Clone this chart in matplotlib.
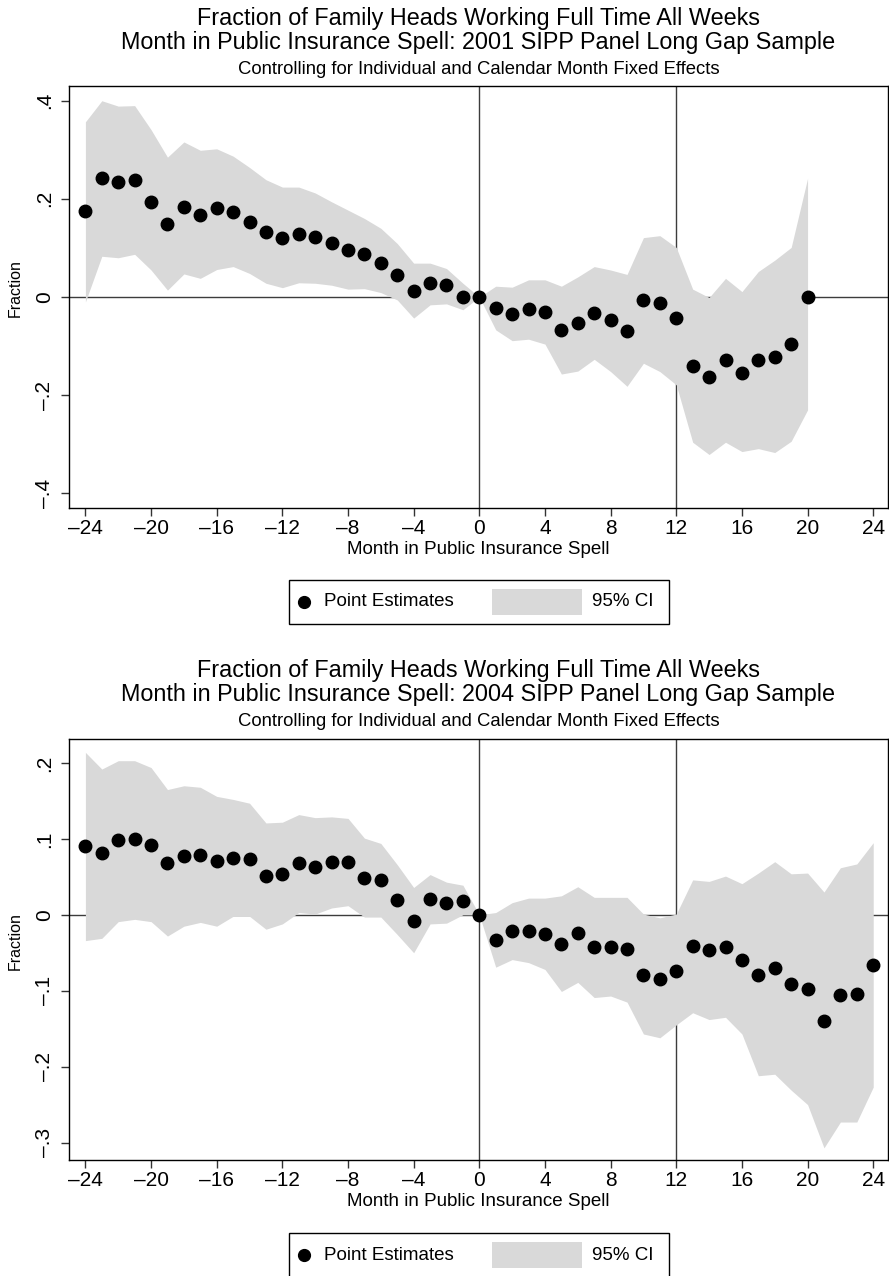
import numpy as np
import matplotlib
matplotlib.use("Agg")
import matplotlib.pyplot as plt
from matplotlib.lines import Line2D
from matplotlib.patches import Rectangle

plt.rcParams['font.family'] = ['Liberation Sans', 'DejaVu Sans']

# ---- data ----
months01 = list(range(-24, 21))
est01 = [0.176, 0.243, 0.235, 0.239, 0.193, 0.149, 0.183, 0.167, 0.181, 0.174,
         0.153, 0.132, 0.121, 0.128, 0.123, 0.110, 0.096, 0.088, 0.070, 0.045,
         0.012, 0.028, 0.024, 0.000, 0.000,
         -0.023, -0.035, -0.025, -0.030, -0.068, -0.054, -0.032, -0.047, -0.069, -0.006,
         -0.013, -0.042, -0.140, -0.164, -0.128, -0.154, -0.129, -0.122, -0.096, 0.000]
hi01 = [0.357, 0.400, 0.389, 0.390, 0.341, 0.285, 0.316, 0.299, 0.302, 0.287,
        0.264, 0.239, 0.224, 0.224, 0.212, 0.194, 0.177, 0.160, 0.140, 0.109,
        0.069, 0.069, 0.058, 0.028, 0.000,
        0.022, 0.020, 0.035, 0.035, 0.022, 0.041, 0.062, 0.055, 0.046, 0.121,
        0.125, 0.101, 0.016, -0.001, 0.038, 0.011, 0.052, 0.075, 0.101, 0.242]
lo01 = [-0.010, 0.083, 0.080, 0.087, 0.055, 0.014, 0.047, 0.038, 0.056, 0.062,
        0.048, 0.028, 0.019, 0.029, 0.028, 0.024, 0.016, 0.017, 0.009, -0.006,
        -0.043, -0.016, -0.014, -0.026, 0.000,
        -0.067, -0.089, -0.086, -0.096, -0.157, -0.151, -0.127, -0.152, -0.182, -0.135,
        -0.152, -0.179, -0.296, -0.321, -0.296, -0.315, -0.309, -0.317, -0.294, -0.230]

months04 = list(range(-24, 25))
est04 = [0.090, 0.081, 0.098, 0.100, 0.092, 0.068, 0.078, 0.079, 0.071, 0.075,
         0.073, 0.051, 0.054, 0.068, 0.063, 0.069, 0.070, 0.049, 0.046, 0.019,
         -0.008, 0.021, 0.015, 0.018, 0.000,
         -0.033, -0.021, -0.021, -0.025, -0.038, -0.024, -0.043, -0.042, -0.045, -0.079,
         -0.084, -0.074, -0.041, -0.047, -0.042, -0.059, -0.079, -0.070, -0.091, -0.098,
         -0.140, -0.106, -0.104, -0.066]
hi04 = [0.214, 0.192, 0.203, 0.203, 0.194, 0.165, 0.170, 0.168, 0.156, 0.152,
        0.147, 0.121, 0.122, 0.132, 0.128, 0.129, 0.127, 0.101, 0.094, 0.066,
        0.036, 0.053, 0.043, 0.039, 0.000,
        0.003, 0.016, 0.022, 0.022, 0.025, 0.037, 0.023, 0.023, 0.023, 0.001,
        -0.004, 0.001, 0.046, 0.044, 0.051, 0.041, 0.055, 0.070, 0.054, 0.055,
        0.030, 0.062, 0.067, 0.095]
lo04 = [-0.034, -0.031, -0.009, -0.006, -0.009, -0.028, -0.015, -0.010, -0.015, -0.002,
        -0.002, -0.019, -0.012, 0.003, 0.001, 0.009, 0.012, -0.003, -0.003, -0.026,
        -0.050, -0.012, -0.011, 0.000, 0.000,
        -0.069, -0.059, -0.063, -0.072, -0.101, -0.089, -0.109, -0.107, -0.115, -0.157,
        -0.162, -0.145, -0.129, -0.138, -0.135, -0.157, -0.212, -0.210, -0.231, -0.250,
        -0.307, -0.273, -0.273, -0.227]

xticks = list(range(-24, 25, 4))
yticks01 = [-0.4, -0.2, 0, 0.2, 0.4]
ylabels01 = ['\u2013.4', '\u2013.2', '0', '.2', '.4']
yticks04 = [-0.3, -0.2, -0.1, 0, 0.1, 0.2]
ylabels04 = ['\u2013.3', '\u2013.2', '\u2013.1', '0', '.1', '.2']

title1 = 'Fraction of Family Heads Working Full Time All Weeks'
title2_01 = 'Month in Public Insurance Spell: 2001 SIPP Panel Long Gap Sample'
title2_04 = 'Month in Public Insurance Spell: 2004 SIPP Panel Long Gap Sample'
subtitle = 'Controlling for Individual and Calendar Month Fixed Effects'

W, H = 889, 1276
fig = plt.figure(figsize=(W / 100, H / 100), dpi=100)

CI_COL = '#d9d9d9'
REF_COL = '#3c3c3c'


def px(y):
    return 1 - y / H


def panel(top, bottom, months, est, lo, hi, ylim, yticks, ylabels, t2, leg_top):
    ax = fig.add_axes([69 / W, px(bottom), (888 - 69) / W, (bottom - top) / H])
    ax.axhline(0, color=REF_COL, lw=1.0, zorder=1)
    ax.axvline(0, color=REF_COL, lw=1.0, zorder=1)
    ax.axvline(12, color=REF_COL, lw=1.0, zorder=1)
    ax.fill_between(months, lo, hi, color=CI_COL, lw=0, zorder=2)
    ax.plot(months, est, 'o', color='black', ms=9, zorder=3)
    ax.set_xlim(-25, 24.9)
    ax.set_ylim(*ylim)
    ax.set_xticks(xticks)
    ax.set_xticklabels([str(t).replace('-', '\u2013') for t in xticks], fontsize=15)
    ax.set_yticks(yticks)
    ax.set_yticklabels(ylabels, fontsize=15, rotation=90, va='center')
    ax.tick_params(direction='out', length=6, width=1, color='#333333')
    ax.tick_params(axis='x', pad=2)
    ax.tick_params(axis='y', pad=5)
    for s in ax.spines.values():
        s.set_linewidth(1.0)
        s.set_color('black')
    ax.set_xlabel('Month in Public Insurance Spell', fontsize=13.5, labelpad=2)
    ax.set_ylabel('Fraction', fontsize=11.5)
    ax.yaxis.set_label_coords(-46 / (888 - 69), 0.52)

    fig.text(478.5 / W, px(top - 68), title1, ha='center', va='center', fontsize=16.8)
    fig.text(478.5 / W, px(top - 44), t2, ha='center', va='center', fontsize=16.8)
    fig.text(478.5 / W, px(top - 17), subtitle, ha='center', va='center', fontsize=13.3)

    # legend box
    bx0, bx1 = 289, 669
    fig.add_artist(Rectangle((bx0 / W, px(leg_top + 44)), (bx1 - bx0) / W, 44 / H,
                             transform=fig.transFigure, fill=False, ec='black', lw=1.0))
    cy = leg_top + 22
    fig.add_artist(Line2D([304 / W], [px(cy)], marker='o', color='black', ms=8.5,
                          transform=fig.transFigure))
    fig.text(324 / W, px(cy), 'Point Estimates', va='center', fontsize=13.5)
    fig.add_artist(Rectangle((492 / W, px(cy + 13)), 90 / W, 26 / H,
                             transform=fig.transFigure, color=CI_COL, lw=0))
    fig.text(592 / W, px(cy), '95% CI', va='center', fontsize=13.5)
    return ax


panel(86, 508, months01, est01, lo01, hi01, (-0.43, 0.43), yticks01, ylabels01,
      title2_01, 580)
panel(739, 1160, months04, est04, lo04, hi04, (-0.323, 0.2316), yticks04, ylabels04,
      title2_04, 1233)

fig.savefig('out.png', dpi=100)
